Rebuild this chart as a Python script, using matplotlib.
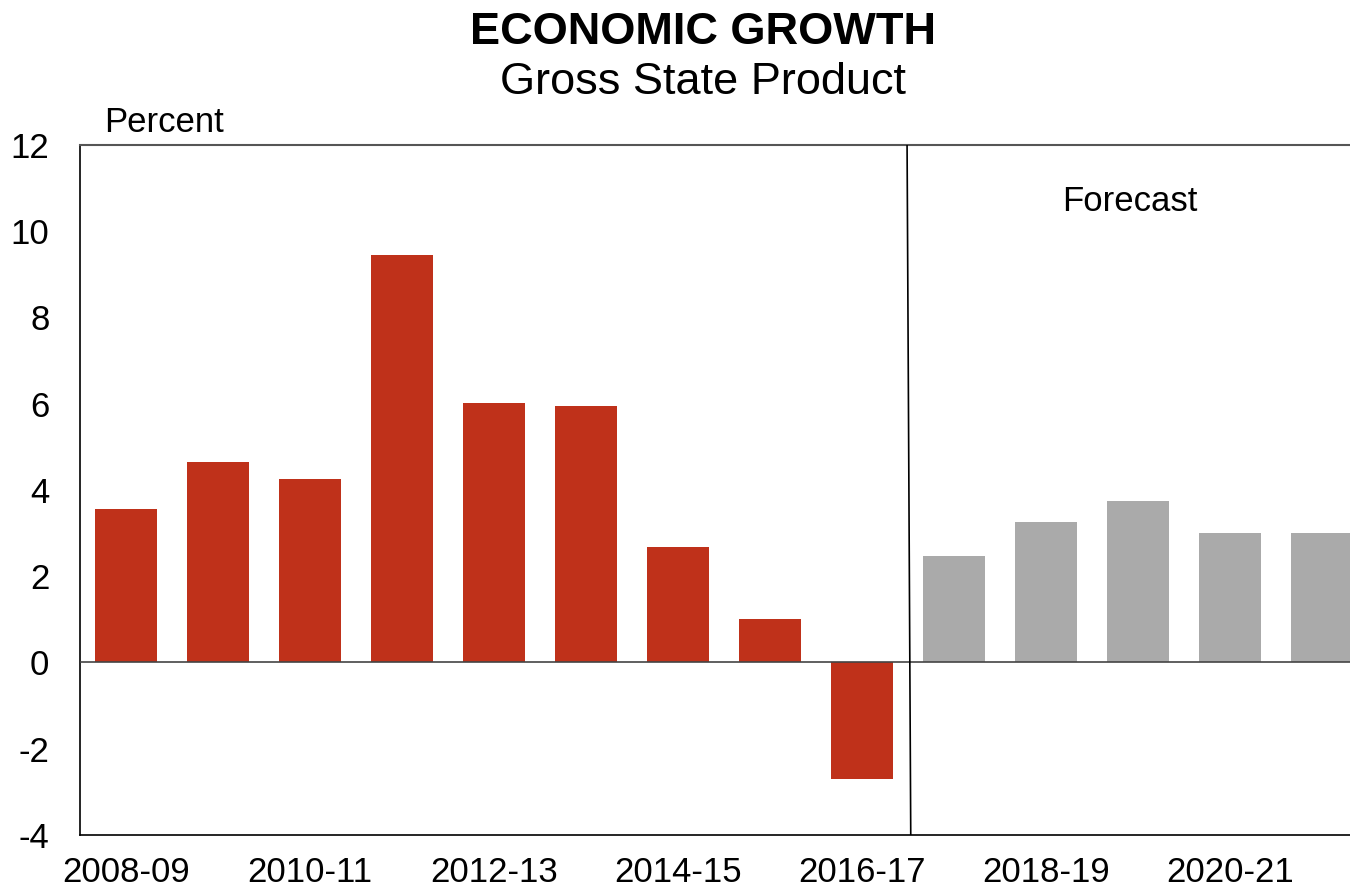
import numpy as np
import matplotlib.pyplot as plt

plt.rcParams["font.family"] = ["Liberation Sans", "DejaVu Sans"]
plt.rcParams["axes.unicode_minus"] = False

# financial years and GSP growth (percent)
years = ["2008-09", "2009-10", "2010-11", "2011-12", "2012-13", "2013-14", "2014-15",
         "2015-16", "2016-17", "2017-18", "2018-19", "2019-20", "2020-21", "2021-22"]
growth = [3.55, 4.64, 4.25, 9.44, 6.01, 5.94, 2.67, 1.02, -2.69,
          2.48, 3.25, 3.74, 3.0, 3.0]
n_actual = 9  # first 9 years are actuals, remainder forecast

fig = plt.figure(figsize=(13.5, 8.9), dpi=100)
ax = fig.add_axes([0.0593, 0.0618, 0.954, 0.7753])

x = np.arange(len(years))
colors = ["#bf311a"] * n_actual + ["#aaaaaa"] * (len(years) - n_actual)
ax.bar(x, growth, width=0.67, color=colors, zorder=2)

ax.axhline(0, color="#444444", lw=1.2, zorder=3)
# divider between actuals and forecast
ax.plot([n_actual - 0.51, n_actual - 0.47], [12, -4], color="black", lw=1.2, zorder=3)

ax.set_xlim(-0.5, len(years) - 0.5)
ax.set_ylim(-4, 12)
ax.set_yticks(range(-4, 13, 2))
ax.set_xticks(x[::2])
ax.set_xticklabels(years[::2])
ax.tick_params(axis="both", length=0, labelsize=25)
ax.tick_params(axis="y", pad=22)
ax.tick_params(axis="x", pad=15)

ax.spines["right"].set_visible(False)
ax.spines["top"].set_color("#555555")
ax.spines["top"].set_linewidth(1.5)
ax.spines["left"].set_linewidth(1.2)
ax.spines["bottom"].set_linewidth(1.2)

ax.text(10.91, 10.7, "Forecast", fontsize=25, ha="center", va="center")

fig.text(104 / 1350, 1 - 123 / 890, "Percent", fontsize=25, ha="left", va="center")
fig.text(703 / 1350, 1 - 33 / 890, "ECONOMIC GROWTH", fontsize=32.5,
         fontweight="bold", ha="center", va="center")
fig.text(703 / 1350, 1 - 83 / 890, "Gross State Product", fontsize=32.5,
         ha="center", va="center")

fig.savefig("out.png", dpi=100)
